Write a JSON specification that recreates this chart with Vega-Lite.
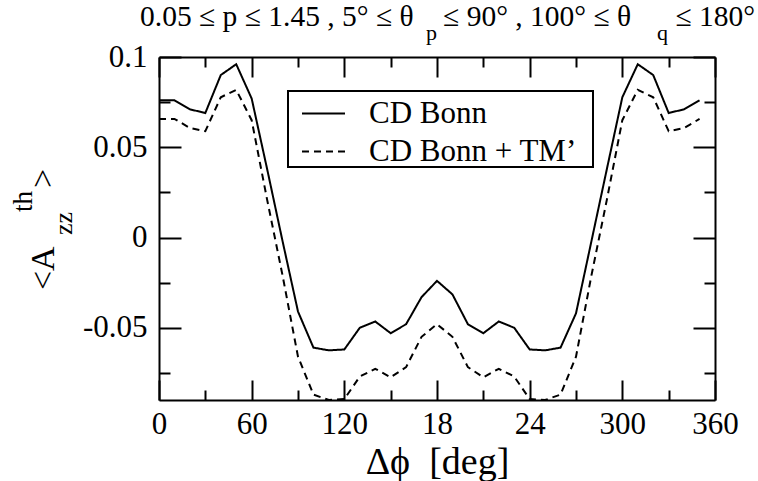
{
  "$schema": "https://vega.github.io/schema/vega-lite/v6.json",
  "width": 556,
  "height": 343,
  "autosize": "none",
  "padding": {"left": 159, "top": 57, "right": 43, "bottom": 81},
  "background": "white",
  "title": {
    "text": "0.05 ≤ p ≤ 1.45 , 5° ≤ θ\u00a0\u00a0\u00a0 ≤ 90° , 100° ≤ θ\u00a0\u00a0\u00a0\u00a0\u00a0 ≤ 180°",
    "subtitle": "\u200b\u00a0\u00a0\u00a0\u00a0\u00a0\u00a0\u00a0\u00a0\u00a0\u00a0\u00a0\u00a0\u00a0\u00a0\u00a0\u00a0\u00a0\u00a0\u00a0\u00a0\u00a0\u00a0\u00a0\u00a0\u00a0\u00a0\u00a0\u00a0\u00a0\u00a0\u00a0\u00a0\u00a0\u00a0\u00a0\u00a0\u00a0\u00a0\u00a0\u00a0\u00a0\u00a0\u00a0\u00a0\u00a0\u00a0\u00a0\u00a0\u00a0\u00a0\u00a0\u00a0p\u00a0\u00a0\u00a0\u00a0\u00a0\u00a0\u00a0\u00a0\u00a0\u00a0\u00a0\u00a0\u00a0\u00a0\u00a0\u00a0\u00a0\u00a0\u00a0\u00a0\u00a0\u00a0\u00a0\u00a0\u00a0\u00a0\u00a0\u00a0\u00a0\u00a0\u00a0\u00a0\u00a0\u00a0\u00a0\u00a0\u00a0\u00a0\u00a0\u00a0q",
    "anchor": "start",
    "frame": "group",
    "dx": -19,
    "font": "Liberation Serif",
    "fontSize": 29.5,
    "fontWeight": "normal",
    "color": "black",
    "subtitleFont": "Liberation Serif",
    "subtitleFontSize": 22,
    "subtitleColor": "black",
    "subtitlePadding": -9,
    "offset": -4
  },
  "data": {
    "values": [
      {"phi": 0, "A": 0.076, "series": "CD Bonn"},
      {"phi": 10, "A": 0.076, "series": "CD Bonn"},
      {"phi": 20, "A": 0.071, "series": "CD Bonn"},
      {"phi": 30, "A": 0.069, "series": "CD Bonn"},
      {"phi": 40, "A": 0.090, "series": "CD Bonn"},
      {"phi": 50, "A": 0.096, "series": "CD Bonn"},
      {"phi": 60, "A": 0.077, "series": "CD Bonn"},
      {"phi": 70, "A": 0.038, "series": "CD Bonn"},
      {"phi": 80, "A": -0.002, "series": "CD Bonn"},
      {"phi": 90, "A": -0.041, "series": "CD Bonn"},
      {"phi": 100, "A": -0.061, "series": "CD Bonn"},
      {"phi": 110, "A": -0.0625, "series": "CD Bonn"},
      {"phi": 120, "A": -0.062, "series": "CD Bonn"},
      {"phi": 130, "A": -0.050, "series": "CD Bonn"},
      {"phi": 140, "A": -0.0465, "series": "CD Bonn"},
      {"phi": 150, "A": -0.053, "series": "CD Bonn"},
      {"phi": 160, "A": -0.048, "series": "CD Bonn"},
      {"phi": 170, "A": -0.033, "series": "CD Bonn"},
      {"phi": 180, "A": -0.024, "series": "CD Bonn"},
      {"phi": 190, "A": -0.0315, "series": "CD Bonn"},
      {"phi": 200, "A": -0.048, "series": "CD Bonn"},
      {"phi": 210, "A": -0.053, "series": "CD Bonn"},
      {"phi": 220, "A": -0.0465, "series": "CD Bonn"},
      {"phi": 230, "A": -0.050, "series": "CD Bonn"},
      {"phi": 240, "A": -0.062, "series": "CD Bonn"},
      {"phi": 250, "A": -0.0625, "series": "CD Bonn"},
      {"phi": 260, "A": -0.061, "series": "CD Bonn"},
      {"phi": 270, "A": -0.042, "series": "CD Bonn"},
      {"phi": 280, "A": -0.002, "series": "CD Bonn"},
      {"phi": 290, "A": 0.038, "series": "CD Bonn"},
      {"phi": 300, "A": 0.0777, "series": "CD Bonn"},
      {"phi": 310, "A": 0.096, "series": "CD Bonn"},
      {"phi": 320, "A": 0.090, "series": "CD Bonn"},
      {"phi": 330, "A": 0.069, "series": "CD Bonn"},
      {"phi": 340, "A": 0.071, "series": "CD Bonn"},
      {"phi": 350, "A": 0.076, "series": "CD Bonn"},
      {"phi": 0, "A": 0.0657, "series": "CD Bonn + TM’"},
      {"phi": 10, "A": 0.0657, "series": "CD Bonn + TM’"},
      {"phi": 20, "A": 0.0607, "series": "CD Bonn + TM’"},
      {"phi": 30, "A": 0.0589, "series": "CD Bonn + TM’"},
      {"phi": 40, "A": 0.0777, "series": "CD Bonn + TM’"},
      {"phi": 50, "A": 0.0818, "series": "CD Bonn + TM’"},
      {"phi": 60, "A": 0.065, "series": "CD Bonn + TM’"},
      {"phi": 70, "A": 0.021, "series": "CD Bonn + TM’"},
      {"phi": 80, "A": -0.021, "series": "CD Bonn + TM’"},
      {"phi": 90, "A": -0.066, "series": "CD Bonn + TM’"},
      {"phi": 100, "A": -0.087, "series": "CD Bonn + TM’"},
      {"phi": 110, "A": -0.090, "series": "CD Bonn + TM’"},
      {"phi": 120, "A": -0.0895, "series": "CD Bonn + TM’"},
      {"phi": 130, "A": -0.077, "series": "CD Bonn + TM’"},
      {"phi": 140, "A": -0.0727, "series": "CD Bonn + TM’"},
      {"phi": 150, "A": -0.0774, "series": "CD Bonn + TM’"},
      {"phi": 160, "A": -0.0718, "series": "CD Bonn + TM’"},
      {"phi": 170, "A": -0.055, "series": "CD Bonn + TM’"},
      {"phi": 180, "A": -0.048, "series": "CD Bonn + TM’"},
      {"phi": 190, "A": -0.055, "series": "CD Bonn + TM’"},
      {"phi": 200, "A": -0.0718, "series": "CD Bonn + TM’"},
      {"phi": 210, "A": -0.0774, "series": "CD Bonn + TM’"},
      {"phi": 220, "A": -0.0727, "series": "CD Bonn + TM’"},
      {"phi": 230, "A": -0.077, "series": "CD Bonn + TM’"},
      {"phi": 240, "A": -0.0895, "series": "CD Bonn + TM’"},
      {"phi": 250, "A": -0.090, "series": "CD Bonn + TM’"},
      {"phi": 260, "A": -0.087, "series": "CD Bonn + TM’"},
      {"phi": 270, "A": -0.066, "series": "CD Bonn + TM’"},
      {"phi": 280, "A": -0.021, "series": "CD Bonn + TM’"},
      {"phi": 290, "A": 0.021, "series": "CD Bonn + TM’"},
      {"phi": 300, "A": 0.065, "series": "CD Bonn + TM’"},
      {"phi": 310, "A": 0.0818, "series": "CD Bonn + TM’"},
      {"phi": 320, "A": 0.0777, "series": "CD Bonn + TM’"},
      {"phi": 330, "A": 0.0589, "series": "CD Bonn + TM’"},
      {"phi": 340, "A": 0.0607, "series": "CD Bonn + TM’"},
      {"phi": 350, "A": 0.0657, "series": "CD Bonn + TM’"}
    ]
  },
  "layer": [
    {
      "transform": [{"filter": "datum.series == 'CD Bonn'"}],
      "mark": {"type": "line", "color": "black", "strokeWidth": 2},
      "encoding": {
        "x": {
          "field": "phi", "type": "quantitative",
          "scale": {"domain": [0, 360], "nice": false, "zero": false},
          "axis": {
            "orient": "bottom",
            "values": [0, 30, 60, 90, 120, 150, 180, 210, 240, 270, 300, 330, 360],
            "labelExpr": "datum.value % 60 == 0 ? (datum.value == 180 ? '18' : (datum.value == 240 ? '24' : '' + datum.value)) : ''",
            "tickSize": {"condition": {"test": "datum.value % 60 == 0", "value": -20}, "value": -10},
            "labelPadding": 29,
            "title": "Δϕ\u00a0 [deg]",
            "titleFontSize": 38,
            "titlePadding": -6
          }
        },
        "y": {
          "field": "A", "type": "quantitative",
          "scale": {"domain": [-0.09, 0.1], "nice": false, "zero": false},
          "axis": {
            "orient": "left",
            "values": [-0.075, -0.05, -0.025, 0, 0.025, 0.05, 0.075, 0.1],
            "labelExpr": "abs(datum.value * 20 - round(datum.value * 20)) < 0.001 ? '' + datum.value : ''",
            "tickSize": {"condition": {"test": "abs(datum.value * 20 - round(datum.value * 20)) < 0.001", "value": -22}, "value": -11},
            "labelPadding": 34,
            "labelBaseline": "middle",
            "title": null
          }
        },
        "strokeDash": {
          "field": "series", "type": "nominal",
          "scale": {"domain": ["CD Bonn", "CD Bonn + TM’"], "range": [[1, 0], [7, 5]]},
          "legend": {"orient": "none", "legendX": 129, "legendY": 34, "title": null, "labelExpr": "datum.label + '\u00a0\u00a0\u200b'"}
        }
      }
    },
    {
      "transform": [{"filter": "datum.series == 'CD Bonn + TM’'"}],
      "mark": {"type": "line", "color": "black", "strokeWidth": 2},
      "encoding": {
        "x": {
          "field": "phi", "type": "quantitative",
          "axis": {
            "orient": "top",
            "values": [0, 30, 60, 90, 120, 150, 180, 210, 240, 270, 300, 330, 360],
            "labels": false,
            "tickSize": {"condition": {"test": "datum.value % 60 == 0", "value": -20}, "value": -10},
            "title": null
          }
        },
        "y": {
          "field": "A", "type": "quantitative",
          "axis": {
            "orient": "right",
            "values": [-0.075, -0.05, -0.025, 0, 0.025, 0.05, 0.075, 0.1],
            "labels": false,
            "tickSize": {"condition": {"test": "abs(datum.value * 20 - round(datum.value * 20)) < 0.001", "value": -22}, "value": -11},
            "title": null
          }
        },
        "strokeDash": {
          "field": "series", "type": "nominal",
          "scale": {"domain": ["CD Bonn", "CD Bonn + TM’"], "range": [[1, 0], [7, 5]]},
          "legend": {"orient": "none", "legendX": 129, "legendY": 34, "title": null, "labelExpr": "datum.label + '\u00a0\u00a0\u200b'"}
        }
      }
    },
    {
      "data": {"values": [{}]},
      "mark": {"type": "text", "text": "<A", "angle": 270, "align": "left", "baseline": "alphabetic", "font": "Liberation Serif", "fontSize": 34, "color": "black"},
      "encoding": {
        "x": {"datum": -68, "type": "quantitative", "axis": null},
        "y": {"datum": -0.0291, "type": "quantitative", "axis": null}
      }
    },
    {
      "data": {"values": [{}]},
      "mark": {"type": "text", "text": "zz", "angle": 270, "align": "left", "baseline": "alphabetic", "font": "Liberation Serif", "fontSize": 26, "color": "black"},
      "encoding": {
        "x": {"datum": -56.3, "type": "quantitative", "axis": null},
        "y": {"datum": 0.0014, "type": "quantitative", "axis": null}
      }
    },
    {
      "data": {"values": [{}]},
      "mark": {"type": "text", "text": "th", "angle": 270, "align": "left", "baseline": "alphabetic", "font": "Liberation Serif", "fontSize": 27, "color": "black"},
      "encoding": {
        "x": {"datum": -82.2, "type": "quantitative", "axis": null},
        "y": {"datum": 0.0141, "type": "quantitative", "axis": null}
      }
    },
    {
      "data": {"values": [{}]},
      "mark": {"type": "text", "text": ">", "angle": 270, "align": "left", "baseline": "alphabetic", "font": "Liberation Serif", "fontSize": 34, "color": "black"},
      "encoding": {
        "x": {"datum": -68, "type": "quantitative", "axis": null},
        "y": {"datum": 0.0274, "type": "quantitative", "axis": null}
      }
    }
  ],
  "resolve": {"axis": {"x": "independent", "y": "independent"}},
  "config": {
    "view": {"stroke": null},
    "font": "Liberation Serif",
    "axis": {
      "domainColor": "black",
      "domainWidth": 2,
      "tickColor": "black",
      "tickWidth": 2,
      "labelFont": "Liberation Serif",
      "labelFontSize": 31,
      "labelColor": "black",
      "labelFlush": false,
      "labelOverlap": false,
      "grid": false,
      "titleFont": "Liberation Serif",
      "titleFontWeight": "normal",
      "titleColor": "black"
    },
    "legend": {
      "labelFont": "Liberation Serif",
      "labelFontSize": 31,
      "labelColor": "black",
      "labelOffset": 23,
      "labelLimit": 0,
      "symbolType": "stroke",
      "symbolSize": 1849,
      "symbolStrokeWidth": 2,
      "symbolStrokeColor": "black",
      "symbolOffset": 13,
      "strokeColor": "black",
      "strokeWidth": 2,
      "padding": 0,
      "rowPadding": -11
    }
  }
}
